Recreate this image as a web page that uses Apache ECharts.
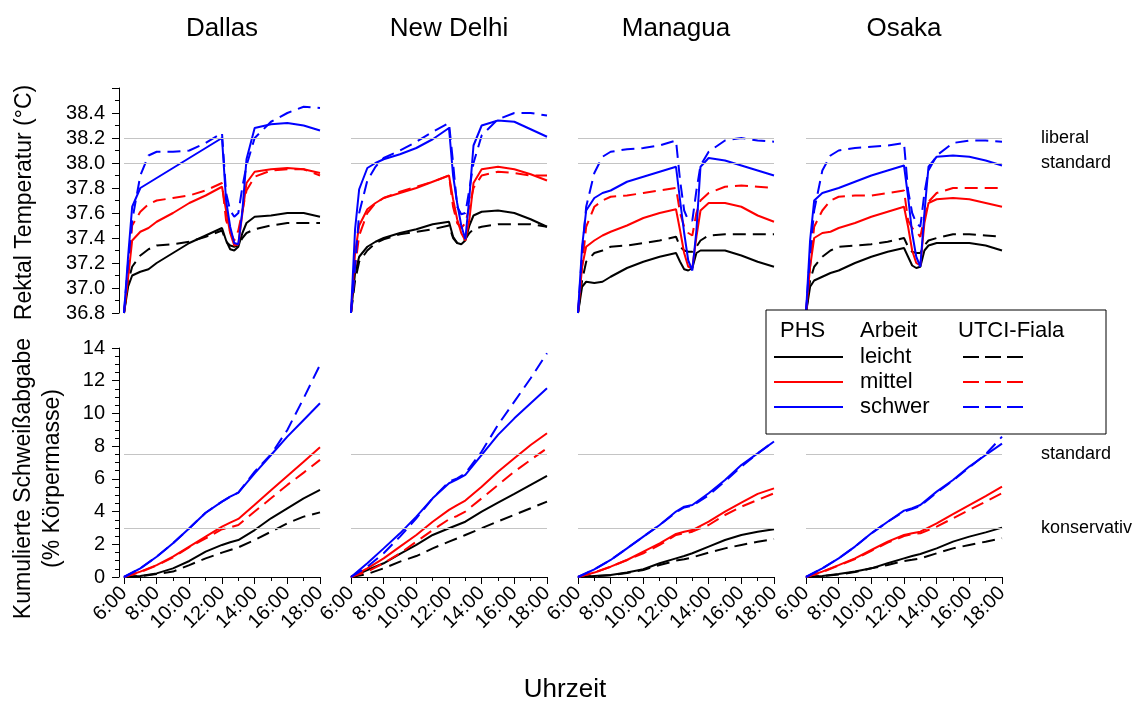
<!DOCTYPE html>
<html><head><meta charset="utf-8">
<script src="https://cdn.jsdelivr.net/npm/echarts@6/dist/echarts.min.js"></script>
<style>html,body{margin:0;padding:0;background:#fff}#c{width:1134px;height:704px}</style>
</head><body><div id="c"></div><script>
// ---------- DATA ----------
const cities = ['Dallas', 'New Delhi', 'Managua', 'Osaka'];
const workLabels = ['leicht', 'mittel', 'schwer'];
const legendHeaders = ['PHS', 'Arbeit', 'UTCI-Fiala'];
const xTickLabels = ['6:00', '8:00', '10:00', '12:00', '14:00', '16:00', '18:00'];
const tempThresholds = [38.2, 38.0];
const tempThresholdLabels = ['liberal', 'standard'];
const sweatThresholds = [7.5, 3];
const sweatThresholdLabels = ['standard', 'konservativ'];
const yTitleTemp = 'Rektal Temperatur (°C)';
const yTitleSweat = ['Kumulierte Schweißabgabe', '(% Körpermasse)'];
const xTitle = 'Uhrzeit';

// hours for rectal temperature
const hoursT = [6, 6.25, 6.5, 7, 7.5, 8, 9, 10, 11, 12, 12.25, 12.5, 12.75, 13, 13.25, 13.5, 14, 15, 16, 17, 18];
// hours for cumulative sweat loss
const hoursS = [6, 7, 8, 9, 10, 11, 12, 12.5, 13, 14, 15, 16, 17, 18];

// Dallas – rectal temperature
const dalT_phs_leicht  = [36.8,37.01,37.10,37.13,37.15,37.20,37.28,37.36,37.42,37.48,37.38,37.31,37.30,37.33,37.44,37.52,37.57,37.58,37.60,37.60,37.57];
const dalT_utci_leicht = [36.8,37.05,37.17,37.26,37.31,37.34,37.35,37.37,37.41,37.46,37.37,37.34,37.33,37.34,37.40,37.44,37.47,37.50,37.52,37.52,37.52];
const dalT_phs_mittel  = [36.8,37.08,37.38,37.45,37.48,37.53,37.60,37.68,37.74,37.81,37.62,37.44,37.34,37.35,37.60,37.84,37.93,37.95,37.96,37.95,37.92];
const dalT_utci_mittel = [36.8,37.10,37.50,37.61,37.67,37.70,37.72,37.74,37.78,37.84,37.54,37.45,37.38,37.46,37.62,37.78,37.89,37.94,37.95,37.95,37.90];
const dalT_phs_schwer  = [36.8,37.25,37.65,37.80,37.84,37.88,37.96,38.04,38.12,38.20,37.70,37.49,37.36,37.35,37.62,38.03,38.28,38.31,38.32,38.30,38.26];
const dalT_utci_schwer = [36.8,37.20,37.54,37.90,38.06,38.09,38.09,38.10,38.16,38.24,37.76,37.62,37.57,37.60,37.81,37.98,38.20,38.33,38.40,38.45,38.44];
// New Delhi – rectal temperature
const ndT_phs_leicht  = [36.8,37.12,37.25,37.33,37.37,37.40,37.44,37.47,37.51,37.53,37.41,37.36,37.35,37.38,37.50,37.58,37.61,37.62,37.60,37.55,37.49];
const ndT_utci_leicht = [36.8,37.06,37.21,37.30,37.36,37.39,37.43,37.45,37.47,37.50,37.40,37.36,37.36,37.39,37.44,37.47,37.49,37.51,37.51,37.51,37.49];
const ndT_phs_mittel  = [36.8,37.28,37.50,37.63,37.68,37.72,37.76,37.80,37.85,37.90,37.71,37.55,37.44,37.38,37.55,37.84,37.95,37.97,37.95,37.91,37.86];
const ndT_utci_mittel = [36.8,37.17,37.42,37.60,37.68,37.72,37.77,37.81,37.85,37.90,37.65,37.52,37.48,37.52,37.65,37.80,37.90,37.93,37.92,37.90,37.90];
const ndT_phs_schwer  = [36.8,37.47,37.79,37.96,38.00,38.03,38.07,38.12,38.19,38.28,37.90,37.68,37.50,37.39,37.73,38.14,38.30,38.34,38.33,38.27,38.21];
const ndT_utci_schwer = [36.8,37.17,37.60,37.86,37.97,38.04,38.10,38.17,38.25,38.32,38.00,37.65,37.59,37.60,37.79,38.00,38.22,38.35,38.40,38.40,38.38];
// Managua – rectal temperature
const maT_phs_leicht  = [36.8,37.01,37.05,37.04,37.05,37.09,37.16,37.21,37.25,37.28,37.21,37.15,37.14,37.16,37.28,37.30,37.30,37.30,37.26,37.21,37.17];
const maT_utci_leicht = [36.8,37.06,37.21,37.28,37.30,37.33,37.34,37.36,37.38,37.41,37.33,37.30,37.29,37.29,37.33,37.38,37.42,37.43,37.43,37.43,37.43];
const maT_phs_mittel  = [36.8,37.17,37.33,37.38,37.42,37.45,37.50,37.56,37.60,37.63,37.46,37.28,37.17,37.16,37.41,37.62,37.68,37.68,37.65,37.58,37.53];
const maT_utci_mittel = [36.8,37.17,37.49,37.65,37.70,37.73,37.74,37.76,37.78,37.80,37.60,37.49,37.44,37.42,37.60,37.70,37.76,37.81,37.82,37.81,37.80];
const maT_phs_schwer  = [36.8,37.33,37.62,37.72,37.76,37.78,37.85,37.89,37.93,37.97,37.70,37.44,37.22,37.14,37.46,37.97,38.04,38.02,37.98,37.94,37.90];
const maT_utci_schwer = [36.8,37.28,37.65,37.92,38.05,38.09,38.11,38.12,38.14,38.18,37.86,37.62,37.54,37.54,37.78,37.98,38.09,38.18,38.20,38.18,38.17];
// Osaka – rectal temperature
const osT_phs_leicht  = [36.8,37.01,37.06,37.09,37.12,37.14,37.20,37.25,37.29,37.32,37.25,37.18,37.16,37.17,37.30,37.34,37.36,37.36,37.36,37.34,37.30];
const osT_utci_leicht = [36.8,37.06,37.17,37.25,37.30,37.33,37.34,37.35,37.37,37.40,37.33,37.29,37.28,37.28,37.34,37.38,37.40,37.43,37.43,37.42,37.41];
const osT_phs_mittel  = [36.8,37.17,37.40,37.44,37.45,37.48,37.52,37.57,37.61,37.65,37.49,37.30,37.20,37.18,37.52,37.68,37.71,37.72,37.71,37.68,37.65];
const osT_utci_mittel = [36.8,37.17,37.49,37.62,37.70,37.73,37.74,37.74,37.76,37.78,37.54,37.48,37.45,37.41,37.57,37.69,37.76,37.80,37.80,37.80,37.80];
const osT_phs_schwer  = [36.8,37.38,37.70,37.76,37.78,37.80,37.85,37.90,37.94,37.98,37.73,37.44,37.25,37.17,37.60,37.97,38.05,38.06,38.05,38.02,37.98];
const osT_utci_schwer = [36.8,37.28,37.62,37.94,38.06,38.10,38.12,38.13,38.14,38.16,37.78,37.60,37.52,37.49,37.76,37.94,38.06,38.16,38.18,38.18,38.17];

// Dallas – cumulative sweat loss
const dalS_phs_leicht  = [0,0.06,0.22,0.53,0.98,1.55,1.96,2.12,2.26,2.87,3.59,4.20,4.81,5.32];
const dalS_utci_leicht = [0,0.05,0.18,0.33,0.73,1.14,1.49,1.65,1.81,2.26,2.77,3.28,3.69,3.95];
const dalS_phs_mittel  = [0,0.33,0.73,1.24,1.86,2.47,3.08,3.32,3.55,4.42,5.30,6.18,7.05,7.93];
const dalS_utci_mittel = [0,0.30,0.70,1.20,1.82,2.36,2.92,3.04,3.18,4.00,4.81,5.63,6.38,7.16];
const dalS_phs_schwer  = [0,0.53,1.24,2.06,2.98,3.93,4.61,4.91,5.16,6.34,7.46,8.58,9.60,10.62];
const dalS_utci_schwer = [0,0.53,1.24,2.06,2.98,3.93,4.61,4.91,5.16,6.44,7.50,8.99,10.93,12.97];
// New Delhi – cumulative sweat loss
const ndS_phs_leicht  = [0,0.43,0.84,1.41,1.96,2.57,2.98,3.18,3.38,4.00,4.55,5.08,5.63,6.18];
const ndS_utci_leicht = [0,0.18,0.53,0.94,1.28,1.75,2.16,2.36,2.57,2.98,3.40,3.80,4.20,4.61];
const ndS_phs_mittel  = [0,0.53,1.14,1.86,2.57,3.38,4.10,4.40,4.67,5.52,6.44,7.26,8.07,8.79];
const ndS_utci_mittel = [0,0.33,0.84,1.45,2.16,2.87,3.53,3.73,4.00,4.81,5.63,6.44,7.16,7.87];
const ndS_phs_schwer  = [0,0.84,1.75,2.67,3.69,4.81,5.73,5.97,6.24,7.46,8.69,9.70,10.62,11.54];
const ndS_utci_schwer = [0,0.63,1.45,2.47,3.59,4.81,5.83,6.03,6.34,7.67,9.30,10.72,12.15,13.68];
// Managua – cumulative sweat loss
const maS_phs_leicht  = [0,0.06,0.12,0.27,0.47,0.84,1.14,1.28,1.45,1.86,2.26,2.57,2.77,2.92];
const maS_utci_leicht = [0,0.05,0.10,0.25,0.43,0.73,1.00,1.08,1.20,1.49,1.75,1.96,2.16,2.32];
const maS_phs_mittel  = [0,0.27,0.63,1.04,1.55,2.06,2.63,2.77,2.87,3.38,4.00,4.55,5.08,5.42];
const maS_utci_mittel = [0,0.27,0.63,1.04,1.45,1.96,2.57,2.67,2.77,3.18,3.79,4.30,4.71,5.12];
const maS_phs_schwer  = [0,0.47,1.04,1.75,2.47,3.18,4.00,4.30,4.40,5.12,5.93,6.85,7.56,8.28];
const maS_utci_schwer = [0,0.47,1.04,1.75,2.47,3.18,3.95,4.25,4.35,5.00,5.85,6.75,7.55,8.30];
// Osaka – cumulative sweat loss
const osS_phs_leicht  = [0,0.06,0.18,0.33,0.53,0.84,1.14,1.28,1.41,1.75,2.16,2.47,2.73,3.02];
const osS_utci_leicht = [0,0.05,0.15,0.30,0.53,0.73,0.98,1.05,1.14,1.45,1.75,1.96,2.16,2.37];
const osS_phs_mittel  = [0,0.33,0.73,1.14,1.65,2.16,2.57,2.67,2.77,3.28,3.85,4.40,4.95,5.52];
const osS_utci_mittel = [0,0.30,0.70,1.10,1.60,2.10,2.50,2.62,2.67,3.08,3.59,4.10,4.61,5.12];
const osS_phs_schwer  = [0,0.53,1.14,1.86,2.67,3.38,4.06,4.20,4.40,5.22,5.93,6.75,7.46,8.15];
const osS_utci_schwer = [0,0.53,1.14,1.86,2.67,3.38,4.00,4.15,4.35,5.15,5.90,6.70,7.50,8.58];

// ---------- ASSEMBLY ----------
const tempSets = [
  [[dalT_phs_leicht, dalT_phs_mittel, dalT_phs_schwer], [dalT_utci_leicht, dalT_utci_mittel, dalT_utci_schwer]],
  [[ndT_phs_leicht, ndT_phs_mittel, ndT_phs_schwer], [ndT_utci_leicht, ndT_utci_mittel, ndT_utci_schwer]],
  [[maT_phs_leicht, maT_phs_mittel, maT_phs_schwer], [maT_utci_leicht, maT_utci_mittel, maT_utci_schwer]],
  [[osT_phs_leicht, osT_phs_mittel, osT_phs_schwer], [osT_utci_leicht, osT_utci_mittel, osT_utci_schwer]]
];
const sweatSets = [
  [[dalS_phs_leicht, dalS_phs_mittel, dalS_phs_schwer], [dalS_utci_leicht, dalS_utci_mittel, dalS_utci_schwer]],
  [[ndS_phs_leicht, ndS_phs_mittel, ndS_phs_schwer], [ndS_utci_leicht, ndS_utci_mittel, ndS_utci_schwer]],
  [[maS_phs_leicht, maS_phs_mittel, maS_phs_schwer], [maS_utci_leicht, maS_utci_mittel, maS_utci_schwer]],
  [[osS_phs_leicht, osS_phs_mittel, osS_phs_schwer], [osS_utci_leicht, osS_utci_mittel, osS_utci_schwer]]
];

const FONT = '"Liberation Sans", Arial, sans-serif';
const colors = ['#000000', '#ff0000', '#0000ff'];
const DASH = [13, 7];
const LEGEND_DASH = [16, 6];
const panelLeft = [124, 351, 578, 806];
const panelW = 196;

const grids = [], xAxes = [], yAxes = [], series = [];
panelLeft.forEach(l => grids.push({left: l, top: 88, width: panelW, height: 225}));
panelLeft.forEach(l => grids.push({left: l, top: 348, width: panelW, height: 229}));

const axisBlack = {color: '#000', width: 1};
for (let g = 0; g < 8; g++) {
  const bottom = g >= 4;
  xAxes.push({
    gridIndex: g, type: 'value', min: 6, max: 18, interval: 2,
    show: bottom, offset: 4,
    axisLine: {show: true, lineStyle: axisBlack},
    axisTick: {show: true, length: 7, lineStyle: axisBlack},
    minorTick: {show: true, splitNumber: 2, length: 4, lineStyle: axisBlack},
    splitLine: {show: false}, minorSplitLine: {show: false},
    axisLabel: {
      rotate: 45, margin: 9, fontSize: 20, color: '#000', fontFamily: FONT,
      formatter: v => xTickLabels[Math.round((v - 6) / 2)] || ''
    }
  });
  yAxes.push({
    gridIndex: g, type: 'value',
    min: bottom ? 0 : 36.8, max: bottom ? 14 : 38.6, interval: bottom ? 2 : 0.2,
    show: g === 0 || g === 4, offset: 5,
    axisLine: {show: true, lineStyle: axisBlack},
    axisTick: {show: true, length: 7, lineStyle: axisBlack},
    minorTick: {show: true, splitNumber: bottom ? 4 : 2, length: 4, lineStyle: axisBlack},
    splitLine: {show: false}, minorSplitLine: {show: false},
    axisLabel: {
      margin: 14, fontSize: 20, color: '#000', fontFamily: FONT,
      formatter: v => bottom ? String(Math.round(v)) : (v > 38.5 ? '' : v.toFixed(1))
    }
  });
}

function thresholdSeries(g, values) {
  return {
    type: 'line', xAxisIndex: g, yAxisIndex: g, data: [], z: 1, silent: true,
    markLine: {
      silent: true, symbol: ['none', 'none'], label: {show: false},
      lineStyle: {color: '#c4c4c4', type: 'solid', width: 1.2},
      animation: false,
      data: values.map(v => ({yAxis: v}))
    }
  };
}

function lineSeries(g, hours, vals, color, dashed) {
  return {
    type: 'line', xAxisIndex: g, yAxisIndex: g, symbol: 'none', z: 3,
    data: hours.map((h, i) => [h, vals[i]]),
    lineStyle: {color: color, width: 2, type: dashed ? DASH : 'solid'},
    itemStyle: {color: color}
  };
}

for (let c = 0; c < 4; c++) {
  series.push(thresholdSeries(c, tempThresholds));
  series.push(thresholdSeries(c + 4, sweatThresholds));
  for (let w = 0; w < 3; w++) {
    series.push(lineSeries(c, hoursT, tempSets[c][0][w], colors[w], false));
    series.push(lineSeries(c, hoursT, tempSets[c][1][w], colors[w], true));
    series.push(lineSeries(c + 4, hoursS, sweatSets[c][0][w], colors[w], false));
    series.push(lineSeries(c + 4, hoursS, sweatSets[c][1][w], colors[w], true));
  }
}

const chart = echarts.init(document.getElementById('c'), null, {renderer: 'canvas'});
chart.setOption({
  animation: false,
  backgroundColor: '#fff',
  grid: grids, xAxis: xAxes, yAxis: yAxes, series: series
});

// ---------- TEXT / LEGEND GRAPHICS ----------
function txt(text, x, y, size, opts) {
  opts = opts || {};
  return Object.assign({
    type: 'text', x: x, y: y, z: 100,
    style: {
      text: text, font: size + 'px ' + FONT, fill: '#000',
      textAlign: opts.align || 'center', textVerticalAlign: 'middle',
      align: opts.align || 'center', verticalAlign: 'middle'
    }
  }, opts.rotation ? {rotation: opts.rotation} : {});
}

const gfx = [];
cities.forEach((c, i) => gfx.push(txt(c, panelLeft[i] + panelW / 2, 29, 26)));
const tTop = chart.convertToPixel({gridIndex: 0}, [6, 38.6])[1];
const tBot = chart.convertToPixel({gridIndex: 0}, [6, 36.8])[1];
gfx.push(txt(yTitleTemp, 25, (tTop + tBot) / 2 + 2, 23, {rotation: Math.PI / 2}));
const sTop = chart.convertToPixel({gridIndex: 4}, [6, 14])[1];
const sBot = chart.convertToPixel({gridIndex: 4}, [6, 0])[1];
gfx.push(txt(yTitleSweat[0], 24, (sTop + sBot) / 2 + 16, 23, {rotation: Math.PI / 2}));
gfx.push(txt(yTitleSweat[1], 53, (sTop + sBot) / 2 + 16, 23, {rotation: Math.PI / 2}));
gfx.push(txt(xTitle, 565, 690, 26));

tempThresholds.forEach((v, i) => {
  const y = chart.convertToPixel({gridIndex: 3}, [18, v])[1];
  gfx.push(txt(tempThresholdLabels[i], 1041, y, 18, {align: 'left'}));
});
sweatThresholds.forEach((v, i) => {
  const y = chart.convertToPixel({gridIndex: 7}, [18, v])[1];
  gfx.push(txt(sweatThresholdLabels[i], 1041, y, 18, {align: 'left'}));
});

// legend box
const LX = 766, LY = 310, LW = 340, LH = 124;
gfx.push({type: 'rect', z: 90, shape: {x: LX, y: LY, width: LW, height: LH},
  style: {fill: '#fff', stroke: '#000', lineWidth: 1}});
gfx.push(txt(legendHeaders[0], 780, 331, 22, {align: 'left'}));
gfx.push(txt(legendHeaders[1], 860, 331, 22, {align: 'left'}));
gfx.push(txt(legendHeaders[2], 958, 331, 22, {align: 'left'}));
workLabels.forEach((w, i) => {
  const y = 357 + i * 25;
  gfx.push({type: 'line', z: 100, shape: {x1: 774, y1: y, x2: 843, y2: y},
    style: {stroke: colors[i], lineWidth: 2}});
  gfx.push(txt(w, 860, y, 22, {align: 'left'}));
  gfx.push({type: 'line', z: 100, shape: {x1: 963, y1: y, x2: 1023, y2: y},
    style: {stroke: colors[i], lineWidth: 2, lineDash: LEGEND_DASH}});
});

chart.setOption({graphic: gfx});
</script></body></html>
